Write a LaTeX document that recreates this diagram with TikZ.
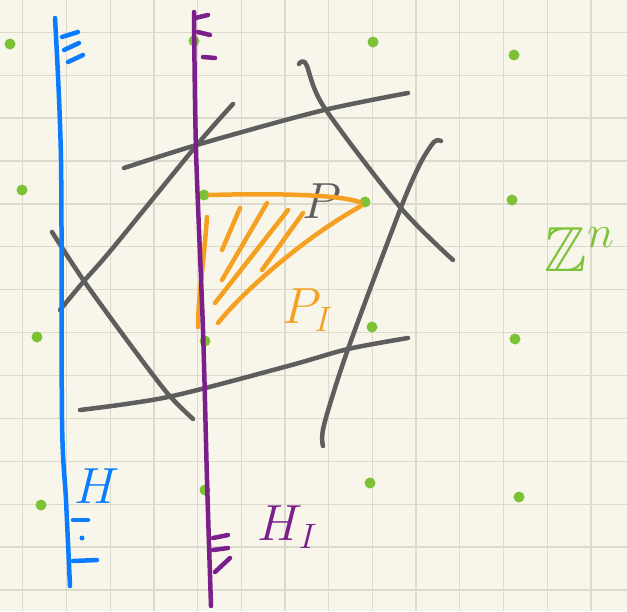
\documentclass[tikz,border=0pt]{standalone}
\usepackage{amssymb}
\definecolor{paper}{HTML}{F8F6EA}
\definecolor{gridgray}{HTML}{DCD9CD}
\definecolor{penblue}{HTML}{0A7CFF}
\definecolor{penpurple}{HTML}{7B1F8A}
\definecolor{pengray}{HTML}{5E5E5E}
\definecolor{penorange}{HTML}{F5A020}
\definecolor{pengreen}{HTML}{7DC236}

\begin{document}
\begin{tikzpicture}[x=1pt,y=-1pt,
  gridline/.style={draw=gridgray,line width=1.3pt},
  pen/.style={line width=4.5pt,line cap=round,line join=round},
  lattice/.style={circle,fill=pengreen,inner sep=0pt,minimum size=11pt},
  hand/.style={font=\fontsize{20}{24}\selectfont,scale=2.45,inner sep=0pt}]

% Paper and grid
\fill[paper] (0,0) rectangle (627,611);
\useasboundingbox (0,0) rectangle (627,611);
\foreach \i in {0,...,13} {
  \draw[gridline] (22.8+43.7*\i,0) -- (22.8+43.7*\i,611);
  \draw[gridline] (0,32.3+42.9*\i) -- (627,32.3+42.9*\i);
}

% Lattice points
\node[lattice] (z11) at (10,44) {};
\node[lattice] (z12) at (194,41) {};
\node[lattice] (z13) at (373,42) {};
\node[lattice] (z14) at (514,55) {};
\node[lattice] (z21) at (22,190) {};
\node[lattice] (z22) at (204,195) {};
\node[lattice] (z23) at (365,202) {};
\node[lattice] (z24) at (512,200) {};
\node[lattice] (z31) at (37,337) {};
\node[lattice] (z32) at (205,341) {};
\node[lattice] (z33) at (372,327) {};
\node[lattice] (z34) at (515,339) {};
\node[lattice] (z41) at (41,505) {};
\node[lattice] (z42) at (205,490) {};
\node[lattice] (z43) at (370,483) {};
\node[lattice] (z44) at (519,497) {};

% Polyhedron P
\draw[pen,pengray] plot[smooth] coordinates {(124,168) (200,144) (320,111) (408,93)};
\draw[pen,pengray] plot[smooth] coordinates {(233,104) (196,146) (112,249) (84,281) (60,310)};
\draw[pen,pengray] plot[smooth] coordinates {(52,232) (84,281) (132,347) (168,394) (193,419)};
\draw[pen,pengray] plot[smooth] coordinates {(80,410) (168,397) (288,366) (348,349) (408,338)};
\draw[pen,pengray] plot[smooth] coordinates {(299,64) (306,64) (324,107) (400,207) (453,260)};
\draw[pen,pengray] plot[smooth] coordinates {(441,141) (434,142) (420,164) (400,210) (348,349) (324,425) (323,446)};
\node[hand,text=pengray] (plabel) at (322,201) {$P$};

% Integer hull P_I
\draw[pen,penorange] (z22.east) .. controls (280,193) and (340,195) .. (z23.west);
\draw[pen,penorange] (z23.south west) .. controls (300,240) and (240,295) .. (218,323);
\draw[pen,penorange] (207,217) .. controls (204,260) and (198,300) .. (198,327);
\draw[pen,penorange] (240,208) -- (222,250);
\draw[pen,penorange] (267,203) -- (222,280);
\draw[pen,penorange] (288,210) -- (215,303);
\draw[pen,penorange] (303,213) -- (262,270);
\node[hand,text=penorange] (pilabel) at (308,310) {$P_I$};

% Half-spaces H and H_I
\draw[pen,penblue] plot[smooth] coordinates {(55,18) (61,160) (62,420) (66,500) (70,586)};
\draw[pen,penblue] (62,37) -- (78,32);
\draw[pen,penblue] (64,50) -- (79,43);
\draw[pen,penblue] (68,62) -- (83,55);
\draw[pen,penblue] (73,520) -- (88,520);
\fill[penblue] (82,538) circle (2.5);
\draw[pen,penblue] (73,561) -- (97,560);
\node[hand,text=penblue] (hlabel) at (97,486) {$H$};

\draw[pen,penpurple] plot[smooth] coordinates {(194,12) (196,150) (203,330) (207,480) (211,606)};
\draw[pen,penpurple] (195,18) -- (208,15);
\draw[pen,penpurple] (198,32) -- (210,35);
\draw[pen,penpurple] (203,57) -- (215,58);
\draw[pen,penpurple] (213,538) -- (228,535);
\draw[pen,penpurple] (213,550) -- (228,548);
\draw[pen,penpurple] (215,572) -- (230,558);
\node[hand,text=penpurple] (hilabel) at (288,527) {$H_I$};

% Lattice label
\node[hand,text=pengreen,scale=1.3] (zlabel) at (580,250) {$\mathbb{Z}^n$};

\end{tikzpicture}
\end{document}
